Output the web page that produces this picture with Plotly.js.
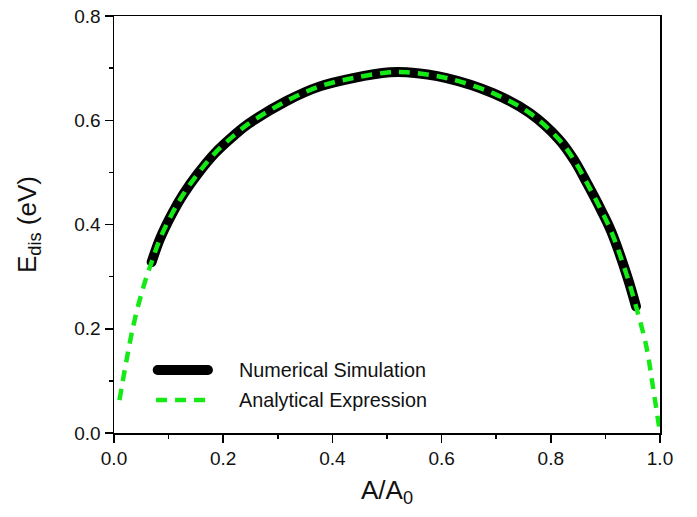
<!DOCTYPE html>
<html>
<head>
<meta charset="utf-8">
<script src="https://cdn.plot.ly/plotly-3.0.1.min.js"></script>
<style>
html,body{margin:0;padding:0;background:#fff;}
#chart{width:697px;height:517px;}
#chart .scatterlayer .trace:first-child path.js-line{stroke-linecap:round;stroke-linejoin:round;}
#chart .scatterlayer .trace:nth-child(2) path.js-line{stroke-linejoin:round;}
</style>
</head>
<body>
<div id="chart"></div>
<script>
// Numerical simulation (thick black line)
var simX = [0.069, 0.084, 0.106, 0.127, 0.154, 0.185, 0.221, 0.246, 0.316, 0.377, 0.438, 0.505, 0.536, 0.609, 0.694, 0.761, 0.816, 0.843, 0.868, 0.892, 0.911, 0.940, 0.956];
var simY = [0.328, 0.372, 0.420, 0.458, 0.498, 0.537, 0.572, 0.593, 0.637, 0.665, 0.681, 0.692, 0.692, 0.681, 0.652, 0.614, 0.562, 0.523, 0.476, 0.428, 0.386, 0.300, 0.243];
// Analytical expression (green dashed line)
var anaX = [0.010, 0.035, 0.054, 0.069, 0.084, 0.106, 0.127, 0.154, 0.185, 0.221, 0.246, 0.316, 0.377, 0.438, 0.505, 0.536, 0.609, 0.694, 0.761, 0.816, 0.843, 0.868, 0.892, 0.911, 0.940, 0.956, 0.975, 0.987, 1.000];
var anaY = [0.063, 0.204, 0.281, 0.328, 0.372, 0.420, 0.458, 0.498, 0.537, 0.572, 0.593, 0.637, 0.665, 0.681, 0.692, 0.692, 0.681, 0.652, 0.614, 0.562, 0.523, 0.476, 0.428, 0.386, 0.300, 0.243, 0.166, 0.089, 0.000];
var seriesNames = ["Numerical Simulation", "Analytical Expression"];
var xTickVals = [0, 0.2, 0.4, 0.6, 0.8, 1.0];
var xTickText = ["0.0", "0.2", "0.4", "0.6", "0.8", "1.0"];
var yTickVals = [0, 0.2, 0.4, 0.6, 0.8];
var yTickText = ["0.0", "0.2", "0.4", "0.6", "0.8"];

var GREEN = "#16ea16";
var FONT = "Liberation Sans, Arial, sans-serif";

var traces = [
  {x: simX, y: simY, mode: "lines", name: seriesNames[0], showlegend: false,
   line: {color: "#000000", width: 10, shape: "spline", smoothing: 1}},
  {x: anaX, y: anaY, mode: "lines", name: seriesNames[1], showlegend: false,
   line: {color: GREEN, width: 4.5, dash: "11px,8px", shape: "spline", smoothing: 1}}
];

var layout = {
  width: 697, height: 517,
  margin: {l: 114, r: 37, t: 16, b: 84},
  paper_bgcolor: "#ffffff", plot_bgcolor: "#ffffff",
  font: {family: FONT, color: "#000000"},
  xaxis: {
    range: [0, 1], showgrid: false, zeroline: false,
    showline: true, linecolor: "#000000", linewidth: 1.5, mirror: true,
    ticks: "outside", ticklen: 8, tickwidth: 1.5, tickcolor: "#000000",
    tickvals: xTickVals, ticktext: xTickText,
    tickfont: {size: 19, family: FONT, color: "#111"},
    minor: {dtick: 0.1, tick0: 0, ticks: "outside", ticklen: 4, tickwidth: 1.5, tickcolor: "#000000", showgrid: false},
    title: {text: "A/A<sub>0</sub>", font: {size: 26, family: FONT, color: "#111"}, standoff: 12},
    automargin: false
  },
  yaxis: {
    range: [0, 0.8], showgrid: false, zeroline: false,
    showline: true, linecolor: "#000000", linewidth: 1.5, mirror: true,
    ticks: "outside", ticklen: 8, tickwidth: 1.5, tickcolor: "#000000",
    tickvals: yTickVals, ticktext: yTickText,
    tickfont: {size: 19, family: FONT, color: "#111"},
    minor: {dtick: 0.1, tick0: 0, ticks: "outside", ticklen: 4, tickwidth: 1.5, tickcolor: "#000000", showgrid: false},
    title: {text: "E<sub>dis</sub> (eV)", font: {size: 26, family: FONT, color: "#111"}, standoff: 30},
    automargin: false
  },
  shapes: [
    {type: "line", xref: "paper", yref: "paper", x0: 0.080, x1: 0.172, y0: 0.151, y1: 0.151,
     line: {color: "#000000", width: 10}},
    {type: "line", xref: "paper", yref: "paper", x0: 0.077, x1: 0.176, y0: 0.079, y1: 0.079,
     line: {color: GREEN, width: 4.5, dash: "11px,8px"}}
  ],
  annotations: [
    {xref: "paper", yref: "paper", x: 0.225, y: 0.151, xanchor: "left", yanchor: "middle",
     text: seriesNames[0], showarrow: false, font: {size: 19.8, family: FONT, color: "#111"}},
    {xref: "paper", yref: "paper", x: 0.225, y: 0.079, xanchor: "left", yanchor: "middle",
     text: seriesNames[1], showarrow: false, font: {size: 19.8, family: FONT, color: "#111"}}
  ]
};

Plotly.newPlot("chart", traces, layout, {displayModeBar: false, staticPlot: true}).then(function () {
  var shp = document.querySelectorAll("#chart .shapelayer path");
  if (shp.length) { shp[0].style.strokeLinecap = "round"; }
});
</script>
</body>
</html>
